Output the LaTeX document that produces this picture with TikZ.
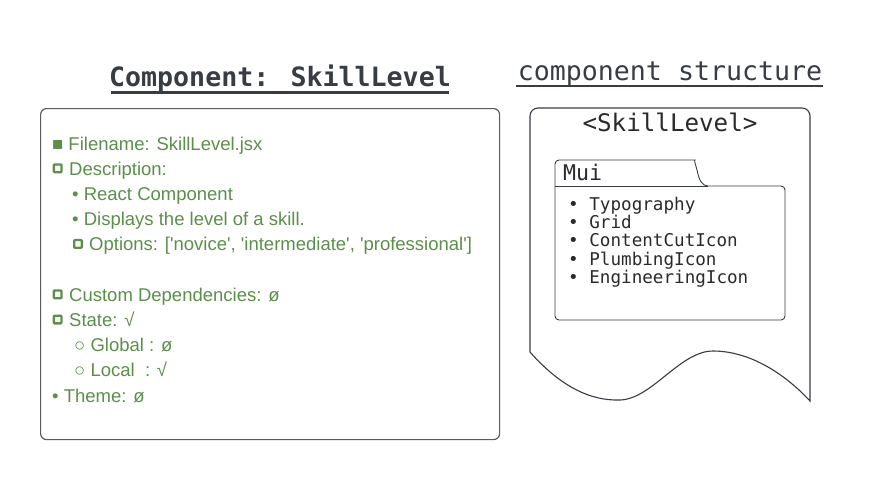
\documentclass[tikz,border=0pt]{standalone}
\usepackage{fontspec}
\newfontfamily\grnfont{Liberation Sans}
\newfontfamily\monofont{DejaVu Sans Mono}
\definecolor{txtgreen}{HTML}{5B8F4A}
\definecolor{darkslate}{HTML}{383C45}
\definecolor{boxgray}{HTML}{5A5A5A}
\definecolor{listdark}{HTML}{2A2A2A}
\tikzset{
  greenline/.style={anchor=base west, inner sep=0pt, text=txtgreen, font=\grnfont\fontsize{18.5}{22}\selectfont},
  hollowsq/.style={draw=txtgreen, line width=2.3pt, fill=white, rounded corners=0.8pt, minimum size=7.7pt, inner sep=0pt},
  monolist/.style={anchor=base west, inner sep=0pt, text=listdark, font=\monofont\fontsize{17.6}{20}\selectfont},
  outlinebox/.style={draw=boxgray, line width=1.2pt, rounded corners=6pt},
  docshape/.style={draw=darkslate, line width=1.1pt},
}
\begin{document}
\begin{tikzpicture}[x=1pt,y=-1pt]
\useasboundingbox[fill=white] (0,0) rectangle (890,480);

% left title
\node[anchor=base, inner sep=0pt, text=darkslate, font=\monofont\bfseries\fontsize{26.6}{30}\selectfont] (title) at (280,86.7) {Component: SkillLevel};
\coordinate (tul) at (111,92.7);
\coordinate (tur) at (449,92.7);
\draw[darkslate, line width=2.6pt] (tul) -- (tur);

% left box
\node[outlinebox, minimum width=459pt, minimum height=331pt, anchor=north west, inner sep=0pt] (leftbox) at (40,108) {};

\node[greenline] (l1) at (52,150) {■ Filename: SkillLevel.jsx};
\node[hollowsq] (b2) at (57.7,168.3) {};
\node[greenline] (l2) at (69,175.2) {Description:};
\node[greenline] (l3) at (72,200.4) {• React Component};
\node[greenline] (l4) at (72,225.6) {• Displays the level of a skill.};
\node[hollowsq] (b5) at (78,243.9) {};
\node[greenline] (l5) at (89,250.8) {Options: ['novice', 'intermediate', 'professional']};
\node[hollowsq] (b6) at (57.7,294.3) {};
\node[greenline] (l6) at (69,301.2) {Custom Dependencies: ø};
\node[hollowsq] (b7) at (57.7,319.5) {};
\node[greenline] (l7) at (69,326.4) {State: √};
\node[greenline] (l8) at (74,351.6) {○ Global : ø};
\node[greenline] (l9) at (74,376.8) {○ Local\ \ : √};
\node[greenline] (l10) at (52,402) {• Theme: ø};

% right title
\node[anchor=base, inner sep=0pt, text=darkslate, font=\monofont\fontsize{26.6}{30}\selectfont] (title2) at (670,80) {component structure};
\coordinate (sul) at (516,86);
\coordinate (sur) at (823,86);
\draw[darkslate, line width=1.3pt] (sul) -- (sur);

% document shape
\draw[docshape, rounded corners=8pt] (530,352) -- (530,108) -- (810,108) [sharp corners] -- (810,401)
  .. controls (785,374) and (750,351) .. (713,351)
  .. controls (680,351) and (652,399) .. (620,400)
  .. controls (590,401) and (560,386) .. (530,352);

\node[anchor=base, inner sep=0pt, text=listdark, font=\monofont\fontsize{24.2}{28}\selectfont] (comp) at (670,131.7) {<SkillLevel>};

% folder
\draw[docshape, line width=0.9pt, rounded corners=4pt] (555,186) -- (555,160) -- (691,160) [sharp corners]
  .. controls (694,160) and (695,163) .. (697,170)
  .. controls (699,180) and (702,186) .. (708,186) [rounded corners=4pt]
  -- (785,186) -- (785,320) -- (555,320) -- cycle;
\draw[docshape, line width=0.9pt] (555,186) -- (708,186);

\node[anchor=base west, inner sep=0pt, text=listdark, font=\monofont\fontsize{21.6}{24}\selectfont] (mui) at (563,180) {Mui};

\node[monolist] (m1) at (568,210) {• Typography};
\node[monolist] (m2) at (568,228.3) {• Grid};
\node[monolist] (m3) at (568,246.7) {• ContentCutIcon};
\node[monolist] (m4) at (568,265) {• PlumbingIcon};
\node[monolist] (m5) at (568,283.3) {• EngineeringIcon};
\end{tikzpicture}
\end{document}
